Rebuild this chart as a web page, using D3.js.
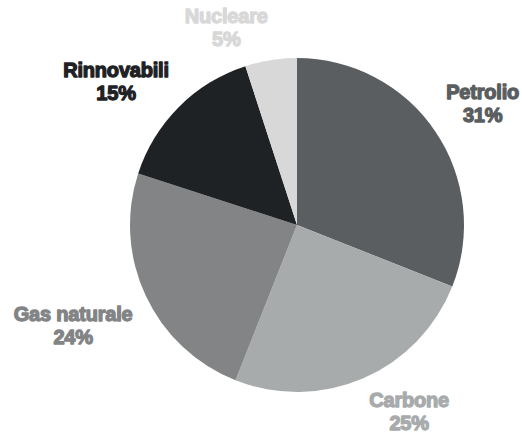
<!DOCTYPE html>
<html><head><meta charset="utf-8">
<script src="https://cdn.jsdelivr.net/npm/d3@7"></script>
<style>html,body{margin:0;padding:0;background:#fff;}svg{display:block;}</style>
</head><body>
<svg id="chart" width="522" height="435"></svg>
<script>
const categories = ["Petrolio", "Carbone", "Gas naturale", "Rinnovabili", "Nucleare"];
const values = [31, 25, 24, 15, 5];
const colors = ["#5a5e60", "#a8abac", "#828485", "#1f2225", "#d8d8d8"];

const width = 522, height = 435;
const cx = 297, cy = 225, radius = 167, labelR = 222;
// small label nudges (layout only)
const nudgeX = [2, 24, -23, -24, -36];
const nudgeY = [-1, -22, 1, 9, 17];

const svg = d3.select("#chart");
const g = svg.append("g").attr("transform", `translate(${cx},${cy})`);

const data = categories.map((c, i) => ({ name: c, value: values[i], color: colors[i], i }));
const pie = d3.pie().value(d => d.value).sort(null);
const arcs = pie(data);
const arc = d3.arc().innerRadius(0).outerRadius(radius);
const labelArc = d3.arc().innerRadius(labelR).outerRadius(labelR);

g.selectAll("path.slice").data(arcs).join("path")
  .attr("class", "slice")
  .attr("d", arc)
  .attr("fill", d => d.data.color);

const labels = g.selectAll("text.lbl").data(arcs).join("text")
  .attr("class", "lbl")
  .attr("transform", d => {
    const [x, y] = labelArc.centroid(d);
    return `translate(${x + nudgeX[d.data.i]},${y + nudgeY[d.data.i]})`;
  })
  .attr("text-anchor", "middle")
  .attr("font-family", "Liberation Sans, Arial, sans-serif")
  .attr("font-weight", "bold")
  .attr("font-size", 20)
  .attr("fill", d => d.data.color)
  .attr("stroke", d => d.data.color)
  .attr("stroke-width", 1.3)
  .attr("stroke-linejoin", "round")
  .attr("letter-spacing", -0.2);

labels.append("tspan").attr("x", 0).attr("dy", 0).text(d => d.data.name);
labels.append("tspan").attr("x", 0).attr("dy", 23).text(d => d.data.value + "%");
</script>
</body></html>
